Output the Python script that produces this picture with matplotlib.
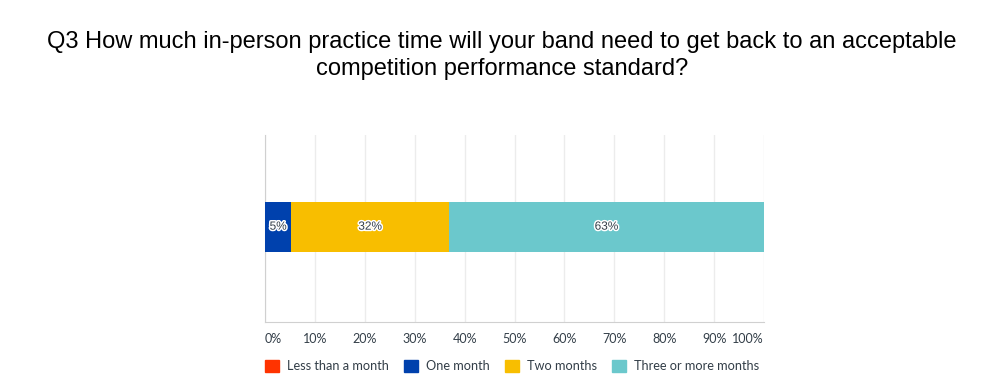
import matplotlib.pyplot as plt
import matplotlib.patheffects as pe
from matplotlib.patches import Patch

# survey answers, percent of respondents
categories = ["Less than a month", "One month", "Two months", "Three or more months"]
values = [0.0, 5.26, 31.58, 63.16]
colors = ["#ff3300", "#0041ad", "#f8be00", "#6bc8cc"]
ticks = [0, 10, 20, 30, 40, 50, 60, 70, 80, 90, 100]
tick_labels = [f"{t}%" for t in ticks]

fig = plt.figure(figsize=(10, 3.88), dpi=100)
ax = fig.add_axes([0.265, 0.170, 0.499, 0.482])

left = 0
for cat, v, c in zip(categories, values, colors):
    if v > 0:
        ax.barh(0.01, v, left=left, height=0.267, color=c, zorder=3)
        txt = ax.text(left + v / 2, 0.01, f"{round(v)}%", ha="center", va="center",
                      fontsize=8.5, color="#333e48", family="Liberation Sans", zorder=4)
        txt.set_path_effects([pe.withStroke(linewidth=2.2, foreground="white")])
    left += v

ax.set_xlim(0, 100)
ax.set_ylim(-0.5, 0.5)
ax.set_yticks([])
ax.set_xticks(ticks)
ax.set_xticklabels(tick_labels)
for i, lab in enumerate(ax.get_xticklabels()):
    lab.set_fontsize(9)
    lab.set_color("#333e48")
    lab.set_family("Lato")
    if i == 0:
        lab.set_ha("left")
    elif i == len(ticks) - 1:
        lab.set_ha("right")
ax.tick_params(axis="x", length=0, pad=8)
ax.grid(axis="x", color="#ececec", linewidth=1, zorder=0)
for s in ["top", "right"]:
    ax.spines[s].set_visible(False)
ax.spines["left"].set_color("#d0d0d0")
ax.spines["bottom"].set_color("#d0d0d0")

fig.text(0.502, 0.857, "Q3 How much in-person practice time will your band need to get back to an acceptable\ncompetition performance standard?",
         ha="center", va="center", fontsize=17, family="Liberation Sans", color="#000000",
         linespacing=1.25)

handles = [Patch(facecolor=c, edgecolor=c, label=cat) for cat, c in zip(categories, colors)]
leg = fig.legend(handles=handles, loc="center", bbox_to_anchor=(0.512, 0.057), ncol=4,
                 frameon=False, handlelength=1.1, handleheight=1.1,
                 handletextpad=0.6, columnspacing=1.2, prop={"family": "Lato", "size": 9.2})
for t in leg.get_texts():
    t.set_color("#333e48")

fig.savefig("out.png", dpi=100)
